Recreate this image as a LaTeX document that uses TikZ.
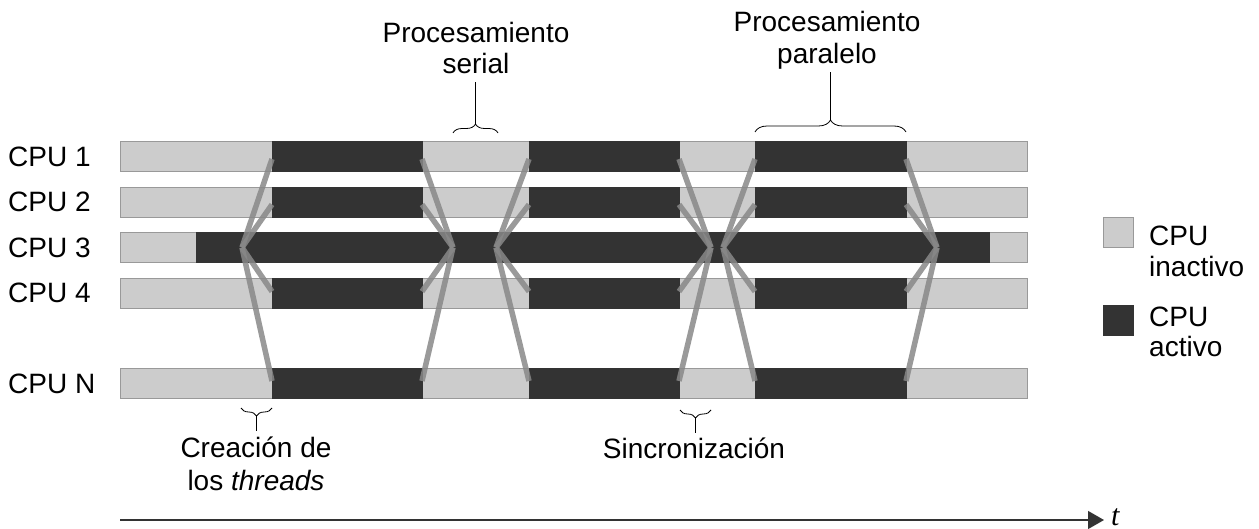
\documentclass[tikz,border=0pt]{standalone}
\usepackage{fontspec}
\setmainfont{Liberation Sans}
\newfontfamily\tserif{Liberation Serif}
\usetikzlibrary{arrows.meta,decorations.pathreplacing}
\definecolor{idle}{HTML}{CCCCCC}
\definecolor{busy}{HTML}{333333}
\definecolor{rim}{HTML}{999999}
\definecolor{sync}{HTML}{888888}
\begin{document}
\begin{tikzpicture}[x=1pt,y=-1pt,
  idlebar/.style={fill=idle,draw=rim,line width=0.8pt},
  busybar/.style={fill=busy,draw=busy,line width=0.8pt},
  thread/.style={draw=sync,line width=5.5pt,opacity=0.85},
  lbl/.style={font=\fontsize{28}{32}\selectfont,inner sep=0pt,anchor=base},
  brc/.style={decorate,decoration={brace,amplitude=#1},line width=0.8pt},
  leader/.style={line width=0.8pt},
]
\useasboundingbox (0,0) rectangle (1259,529);
% rows with threads
\foreach \n/\y/\e in {1/156.5/159, 2/202/204.5, 4/293/291.5, N/383.5/381} {
  \draw[idlebar] (120,\y-15) rectangle (1027,\y+15);
  \foreach \a/\b in {272/422,529/679,755/906}
    \draw[busybar] (\a,\y-15) rectangle (\b,\y+15);
  \node[lbl,anchor=base west] (lab\n) at (8,\y+10) {CPU \n};
  \coordinate (s1\n) at (272,\e);
  \coordinate (e1\n) at (422,\e);
  \coordinate (s2\n) at (529,\e);
  \coordinate (e2\n) at (679,\e);
  \coordinate (s3\n) at (755,\e);
  \coordinate (e3\n) at (906,\e);
}
% master thread row
\draw[idlebar] (120,232.5) rectangle (1027,262.5);
\draw[busybar] (196,232.5) rectangle (989,262.5);
\node[lbl,anchor=base west] (lab3) at (8,257.5) {CPU 3};
\coordinate (F1) at (242,247.5);
\coordinate (J1) at (453,247.5);
\coordinate (F2) at (496,247.5);
\coordinate (J2) at (711,247.5);
\coordinate (F3) at (723,247.5);
\coordinate (J3) at (937,247.5);
\foreach \n in {1,2,4,N} {
  \draw[thread] (F1) -- (s1\n);
  \draw[thread] (e1\n) -- (J1);
  \draw[thread] (F2) -- (s2\n);
  \draw[thread] (e2\n) -- (J2);
  \draw[thread] (F3) -- (s3\n);
  \draw[thread] (e3\n) -- (J3);
}
% top braces
\coordinate (serL) at (453,133);
\coordinate (serR) at (498,133);
\coordinate (serTip) at (475.5,124);
\coordinate (serTop) at (475.5,82);
\draw[brc=9pt] (serL) -- (serR);
\draw[leader] (serTip) -- (serTop);
\node[lbl] (ser1) at (476,42.7) {Procesamiento};
\node[lbl] (ser2) at (476,74) {serial};
\coordinate (parL) at (755,132);
\coordinate (parR) at (906,132);
\coordinate (parTip) at (830.5,120);
\coordinate (parTop) at (830.5,72);
\draw[brc=12pt] (parL) -- (parR);
\draw[leader] (parTip) -- (parTop);
\node[lbl] (par1) at (827,32) {Procesamiento};
\node[lbl] (par2) at (827,64) {paralelo};
% bottom braces
\coordinate (creL) at (241,408);
\coordinate (creR) at (272,408);
\coordinate (creTip) at (256.5,416);
\coordinate (creBot) at (256.5,431);
\draw[brc=8pt] (creR) -- (creL);
\draw[leader] (creTip) -- (creBot);
\node[lbl] (cre1) at (256,457) {Creación de};
\node[lbl] (cre2) at (256,490) {los \textit{threads}};
\coordinate (sinL) at (680,410);
\coordinate (sinR) at (711,410);
\coordinate (sinTip) at (695.5,418);
\coordinate (sinBot) at (695.5,433);
\draw[brc=8pt] (sinR) -- (sinL);
\draw[leader] (sinTip) -- (sinBot);
\node[lbl] (sin1) at (694,458) {Sincronización};
% legend
\draw[idlebar] (1103,217.5) rectangle (1133,247.5);
\draw[busybar] (1103,305.5) rectangle (1133,335.5);
\node[lbl,anchor=base west] (leg1) at (1149,246) {CPU};
\node[lbl,anchor=base west] (leg2) at (1149,276.5) {inactivo};
\node[lbl,anchor=base west] (leg3) at (1149,326.5) {CPU};
\node[lbl,anchor=base west] (leg4) at (1149,356.5) {activo};
% time axis
\coordinate (t0) at (120,520);
\coordinate (t1) at (1104,520);
\draw[line width=1.2pt,draw=busy,-{Triangle[length=16pt,width=18pt]}] (t0) -- (t1);
\node[inner sep=0pt,anchor=base west,font=\tserif\itshape\fontsize{30}{34}\selectfont] (tlab) at (1111,525) {t};
\end{tikzpicture}
\end{document}
